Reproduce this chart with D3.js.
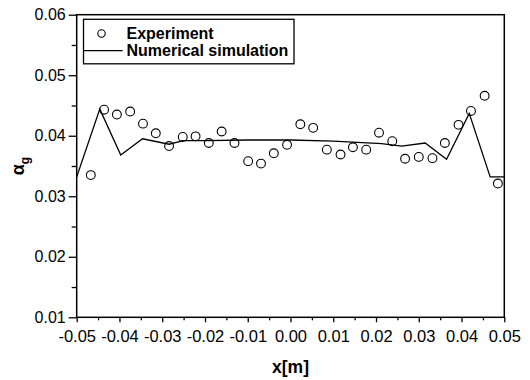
<!DOCTYPE html>
<html>
<head>
<meta charset="utf-8">
<script src="https://cdn.jsdelivr.net/npm/d3@7"></script>
<style>
  body { margin: 0; background: #fff; }
  svg { display: block; font-family: Arial, "Liberation Sans", sans-serif; }
</style>
</head>
<body>
<div class="plot"></div>
<script>
/* experiment points */
const expX = [-0.0467, -0.0436, -0.0406, -0.0375, -0.0345, -0.0315, -0.0284, -0.0252,
  -0.0222, -0.0191, -0.0161, -0.0131, -0.0099, -0.0069, -0.0039, -0.0008,
  0.0023, 0.0053, 0.0085, 0.0117, 0.0146, 0.0177, 0.0207, 0.0238,
  0.0268, 0.0300, 0.0332, 0.0361, 0.0393, 0.0422, 0.0454, 0.0485];
const expY = [0.0335, 0.0443, 0.0435, 0.0440, 0.0420, 0.0404, 0.0383, 0.0398,
  0.0399, 0.0388, 0.0407, 0.0388, 0.0358, 0.0354, 0.0371, 0.0385,
  0.0419, 0.0413, 0.0377, 0.0369, 0.0381, 0.0377, 0.0405, 0.0391,
  0.0362, 0.0365, 0.0363, 0.0388, 0.0418, 0.0441, 0.0466, 0.0321];

/* numerical simulation */
const simX = [-0.0500, -0.0446, -0.0397, -0.0346, -0.0284, -0.0251, -0.0200, -0.0100,
  0.0000, 0.0100, 0.0213, 0.0260, 0.0315, 0.0365, 0.0418, 0.0467, 0.0500];
const simY = [0.0332, 0.0444, 0.0368, 0.0395, 0.0386, 0.0392, 0.0392, 0.0393,
  0.0393, 0.0391, 0.0387, 0.0383, 0.0388, 0.0361, 0.0437, 0.0332, 0.0332];

/* tick labels */
const xTicks = [-0.05, -0.04, -0.03, -0.02, -0.01, 0.00, 0.01, 0.02, 0.03, 0.04, 0.05];
const yTicks = [0.01, 0.02, 0.03, 0.04, 0.05, 0.06];
const legendLabels = ["Experiment", "Numerical simulation"];

const W = 530, H = 380;
const margin = {top: 14.7, right: 25.7, bottom: 62.7, left: 76.7};
const width = W - margin.left - margin.right;
const height = H - margin.top - margin.bottom;

const svg = d3.select(".plot").append("svg")
  .attr("width", W)
  .attr("height", H);

const g = svg.append("g")
  .attr("transform", `translate(${margin.left},${margin.top})`);

const xScale = d3.scaleLinear().domain([-0.05, 0.05]).range([0, width]);
const yScale = d3.scaleLinear().domain([0.01, 0.06]).range([height, 0]);

/* minor ticks at half steps */
const xMinor = xTicks.slice(0, -1).map(d => d + 0.005);
const yMinor = yTicks.slice(0, -1).map(d => d + 0.005);

g.append("g")
  .attr("transform", `translate(0,${height})`)
  .call(d3.axisBottom(xScale).tickValues(xMinor).tickSize(3).tickFormat(""))
  .call(a => a.select(".domain").remove())
  .selectAll("line").attr("stroke-width", 1.3);

g.append("g")
  .call(d3.axisLeft(yScale).tickValues(yMinor).tickSize(5).tickFormat(""))
  .call(a => a.select(".domain").remove())
  .selectAll("line").attr("stroke-width", 1.3);

const xAxis = g.append("g")
  .attr("transform", `translate(0,${height})`)
  .call(d3.axisBottom(xScale).tickValues(xTicks).tickSize(5).tickPadding(8)
    .tickFormat(d => d.toFixed(2)));
xAxis.select(".domain").remove();
xAxis.selectAll("line").attr("stroke-width", 1.3);
xAxis.selectAll("text").attr("font-size", 16.5).attr("font-family", null).attr("fill", "#000");

const yAxis = g.append("g")
  .call(d3.axisLeft(yScale).tickValues(yTicks).tickSize(8).tickPadding(3)
    .tickFormat(d => d.toFixed(2)));
yAxis.select(".domain").remove();
yAxis.selectAll("line").attr("stroke-width", 1.3);
yAxis.selectAll("text").attr("font-size", 16).attr("font-family", null).attr("fill", "#000");

/* frame */
g.append("rect")
  .attr("width", width)
  .attr("height", height)
  .attr("fill", "none")
  .attr("stroke", "#000")
  .attr("stroke-width", 1.5);

/* simulation line */
const line = d3.line()
  .x((d, i) => xScale(simX[i]))
  .y((d, i) => yScale(simY[i]));

g.append("path")
  .datum(simY)
  .attr("d", line)
  .attr("fill", "none")
  .attr("stroke", "#000")
  .attr("stroke-width", 1.3);

/* experiment circles */
g.selectAll(".pt")
  .data(expY)
  .join("circle")
    .attr("class", "pt")
    .attr("cx", (d, i) => xScale(expX[i]))
    .attr("cy", d => yScale(d))
    .attr("r", 4.4)
    .attr("fill", "none")
    .attr("stroke", "#000")
    .attr("stroke-width", 1.1);

/* legend */
const lg = svg.append("g");
lg.append("rect")
  .attr("x", 83.5).attr("y", 19.3)
  .attr("width", 210.5).attr("height", 44.5)
  .attr("fill", "#fff")
  .attr("stroke", "#000")
  .attr("stroke-width", 1.3);
lg.append("circle")
  .attr("cx", 101.5).attr("cy", 33.5)
  .attr("r", 3.7)
  .attr("fill", "none")
  .attr("stroke", "#000")
  .attr("stroke-width", 1.1);
lg.append("line")
  .attr("x1", 84).attr("x2", 122.7)
  .attr("y1", 50.7).attr("y2", 50.7)
  .attr("stroke", "#000")
  .attr("stroke-width", 1.3);
lg.selectAll(".lt")
  .data(legendLabels)
  .join("text")
    .attr("class", "lt")
    .attr("x", 126.5)
    .attr("y", (d, i) => 38.5 + i * 17.3)
    .attr("font-size", 16)
    .attr("font-weight", "bold")
    .text(d => d);

/* axis titles */
svg.append("text")
  .attr("x", margin.left + width / 2)
  .attr("y", 373)
  .attr("text-anchor", "middle")
  .attr("font-size", 17.5)
  .attr("font-weight", "bold")
  .text("x[m]");

const yt = svg.append("text")
  .attr("transform", "translate(24,166) rotate(-90)")
  .attr("text-anchor", "middle")
  .attr("font-size", 18)
  .attr("font-weight", "bold");
yt.append("tspan").text("α");
yt.append("tspan").attr("font-size", 12).attr("dy", 5).text("g");
</script>
</body>
</html>
